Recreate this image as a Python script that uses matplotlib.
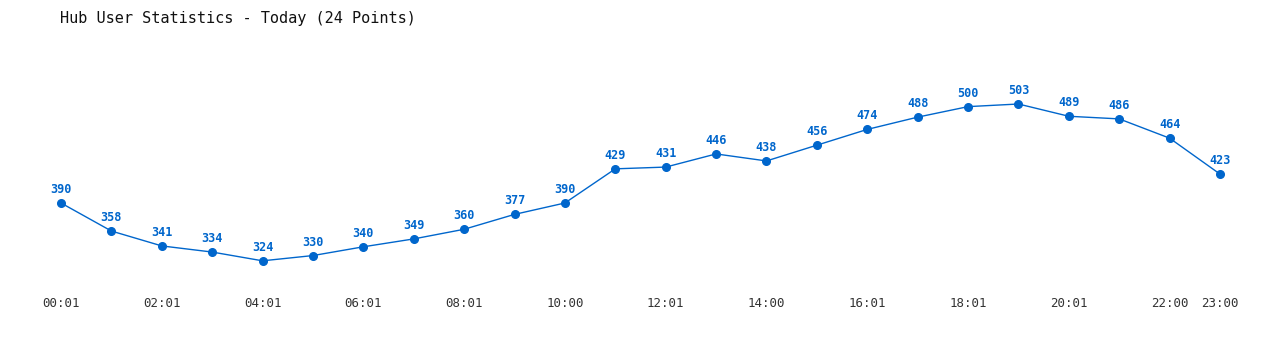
import matplotlib
matplotlib.use("Agg")
import matplotlib.pyplot as plt

times = ["00:01", "01:01", "02:01", "03:01", "04:01", "05:01", "06:01", "07:01",
         "08:01", "09:01", "10:00", "11:01", "12:01", "13:01", "14:00", "15:01",
         "16:01", "17:01", "18:01", "19:01", "20:01", "21:01", "22:00", "23:00"]
users = [390, 358, 341, 334, 324, 330, 340, 349, 360, 377, 390, 429,
         431, 446, 438, 456, 474, 488, 500, 503, 489, 486, 464, 423]
tick_idx = [0, 2, 4, 6, 8, 10, 12, 14, 16, 18, 20, 22, 23]

blue = "#0066cc"
mono = "DejaVu Sans Mono"

fig = plt.figure(figsize=(12.8, 3.5), dpi=100)
ax = fig.add_axes([61 / 1280, 1 - 280 / 350, (1220 - 61) / 1280, 200 / 350])

x = list(range(len(users)))
ax.plot(x, users, color=blue, lw=1, marker="o", ms=5.5, clip_on=False)
for xi, v in zip(x, users):
    ax.annotate(str(v), (xi, v), xytext=(0, 5), textcoords="offset points",
                ha="center", va="bottom", color=blue, fontsize=8.5,
                fontweight="bold", family=mono)

ax.set_xlim(0, 23)
ax.set_ylim(302.1, 530.4)
ax.set_xticks(tick_idx)
ax.set_xticklabels([times[i] for i in tick_idx], family=mono, fontsize=9, color="#333333")
ax.tick_params(axis="x", length=0, pad=12)
ax.set_yticks([])
for s in ax.spines.values():
    s.set_visible(False)

fig.text(60 / 1280, 1 - 18 / 350, "Hub User Statistics - Today (24 Points)",
         family=mono, fontsize=11, color="#111111",
         ha="left", va="center")

fig.savefig("out.png", dpi=100)
